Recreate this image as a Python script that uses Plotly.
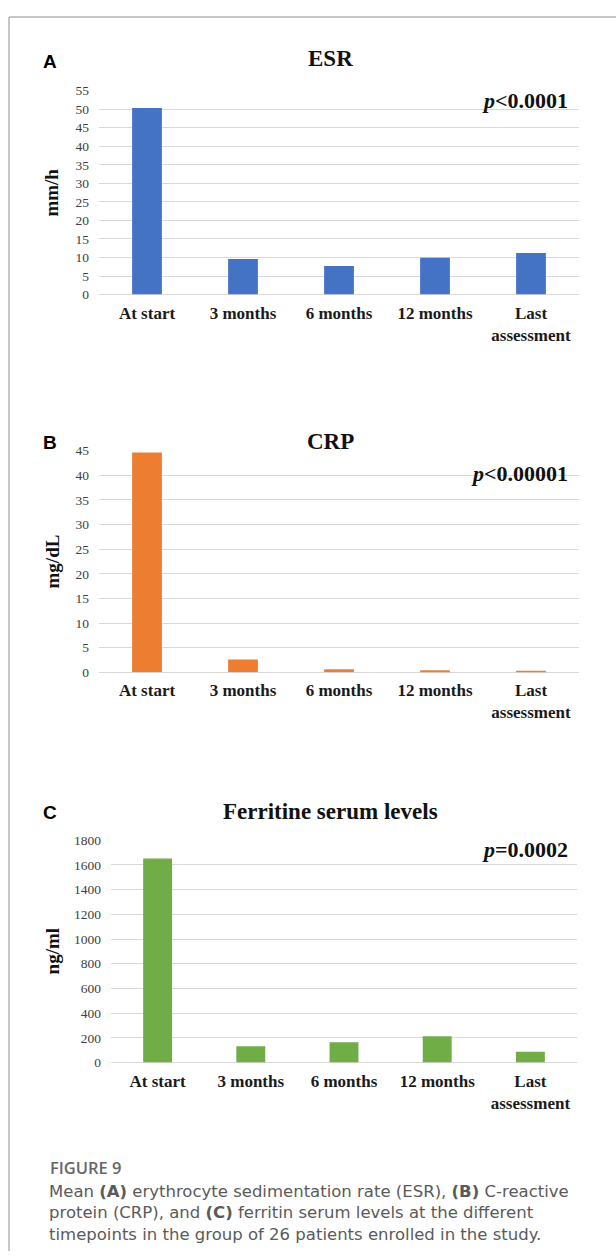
import plotly.graph_objects as go

# Timepoints and mean values per marker
timepoints = ["At start", "3 months", "6 months", "12 months", "Last<br>assessment"]
esr_values = [50.3, 9.6, 7.7, 9.9, 11.2]
crp_values = [44.6, 2.6, 0.6, 0.4, 0.25]
ferritin_values = [1653, 133, 165, 213, 88]

esr_ticks = list(range(0, 56, 5))
crp_ticks = list(range(0, 46, 5))
ferritin_ticks = list(range(0, 1801, 200))

W, H = 616, 1259


def px(x):
    return x / W


def py(y):
    return 1 - y / H


SERIF = "Liberation Serif"
SANS = "Open Sans"
GRID = "#d9d9d9"

fig = go.Figure()

panels = [
    dict(vals=esr_values, color="#4472C4", ticks=esr_ticks, rng=[0, 55],
         xd=(99, 579), yd=(84.7, 291), title="ESR", unit="mm/h",
         p="<i>p</i>&lt;0.0001", letter="A", title_y=52, letter_y=55, p_y=95),
    dict(vals=crp_values, color="#ED7D31", ticks=crp_ticks, rng=[0, 45],
         xd=(99, 579), yd=(449, 673.3), title="CRP", unit="mg/dL",
         p="<i>p</i>&lt;0.00001", letter="B", title_y=440, letter_y=441, p_y=472),
    dict(vals=ferritin_values, color="#70AD47", ticks=ferritin_ticks, rng=[0, 1800],
         xd=(111, 577), yd=(843.3, 1068.3), title="Ferritine serum levels", unit="ng/ml",
         p="<i>p</i>=0.0002", letter="C", title_y=814, letter_y=815, p_y=853),
]

layout_axes = {}
annotations = []
for i, pn in enumerate(panels, start=1):
    xa = "x" if i == 1 else f"x{i}"
    ya = "y" if i == 1 else f"y{i}"
    fig.add_trace(go.Bar(
        x=timepoints, y=pn["vals"], xaxis=xa, yaxis=ya,
        marker=dict(color=pn["color"], line=dict(width=0)),
        width=0.31, showlegend=False, hoverinfo="x+y",
    ))
    xkey = "xaxis" if i == 1 else f"xaxis{i}"
    ykey = "yaxis" if i == 1 else f"yaxis{i}"
    layout_axes[xkey] = dict(
        domain=[px(pn["xd"][0]), px(pn["xd"][1])], anchor=ya,
        showgrid=False, showline=False, ticks="", zeroline=False,
        tickfont=dict(family=SERIF, size=17, color="#1a1a1a", weight="bold"),
        tickangle=0, ticklabelstandoff=6, fixedrange=True,
    )
    layout_axes[ykey] = dict(
        domain=[py(pn["yd"][1]), py(pn["yd"][0])], anchor=xa,
        range=pn["rng"], tickvals=pn["ticks"], showgrid=True,
        gridcolor=GRID, gridwidth=1, zeroline=True, zerolinecolor=GRID,
        zerolinewidth=1, showline=False, ticks="",
        tickfont=dict(family=SERIF, size=13.5, color="#404040"),
        ticklabelstandoff=9, fixedrange=True,
    )
    annotations += [
        dict(text=pn["title"], x=px(330), y=py(pn["title_y"]), xref="paper", yref="paper",
             showarrow=False, xanchor="center", yanchor="middle",
             font=dict(family=SERIF, size=23, color="#111111", weight="bold")),
        dict(text=pn["letter"], x=px(50), y=py(pn["letter_y"]), xref="paper", yref="paper",
             showarrow=False, xanchor="center", yanchor="middle",
             font=dict(family="Liberation Sans", size=19, color="#000000", weight="bold")),
        dict(text=pn["p"], x=px(570), y=py(pn["p_y"]), xref="paper", yref="paper",
             showarrow=False, xanchor="right", yanchor="middle",
             font=dict(family=SERIF, size=22, color="#111111", weight="bold")),
        dict(text=pn["unit"], x=px(52), y=py((pn["yd"][0] + pn["yd"][1]) / 2),
             xref="paper", yref="paper", showarrow=False, textangle=-90,
             xanchor="center", yanchor="middle",
             font=dict(family=SERIF, size=19, color="#111111", weight="bold")),
    ]

# Figure caption (one text block, lines separated with <br>)
caption_lines = [
    "Mean <b>(A)</b> erythrocyte sedimentation rate (ESR), <b>(B)</b> C-reactive",
    "protein (CRP), and <b>(C)</b> ferritin serum levels at the different",
    "timepoints in the group of 26 patients enrolled in the study.",
]
annotations.append(dict(
    text="FIGURE 9", x=px(48), y=py(1174), xref="paper", yref="paper",
    showarrow=False, xanchor="left", yanchor="middle",
    font=dict(family=SANS, size=16.5, color="#666666", weight=600)))
annotations.append(dict(
    text="<br>".join(caption_lines), x=px(47), y=py(1187), xref="paper", yref="paper",
    showarrow=False, xanchor="left", yanchor="top", align="left",
    font=dict(family="DejaVu Sans", size=16.5, color="#5a5a5a")))

shapes = [
    dict(type="line", xref="paper", yref="paper", x0=px(9), x1=1, y0=py(10), y1=py(10),
         line=dict(color="#b4b4b4", width=1.5)),
    dict(type="line", xref="paper", yref="paper", x0=px(9), x1=px(9), y0=py(10), y1=0,
         line=dict(color="#b4b4b4", width=1.5)),
]

fig.update_layout(
    width=W, height=H, margin=dict(l=0, r=0, t=0, b=0),
    paper_bgcolor="white", plot_bgcolor="white",
    annotations=annotations, shapes=shapes,
    **layout_axes,
)

fig.write_html("out.html", config={"displayModeBar": False})
